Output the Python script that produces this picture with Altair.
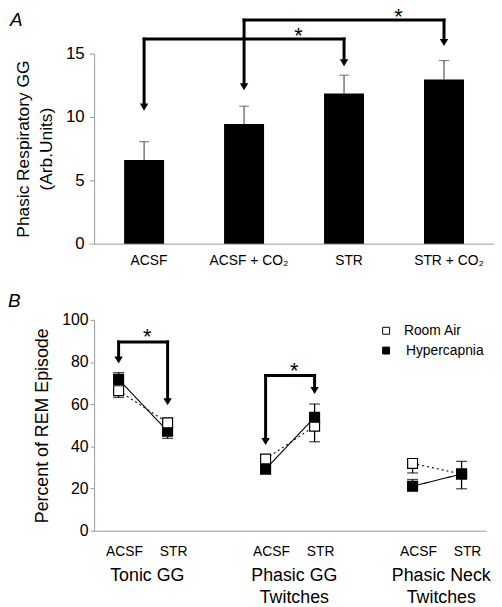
import altair as alt
import pandas as pd

FONT = "Liberation Sans"
INK = "#000000"
AXIS_GREY = "#9a9a9a"
ERR_GREY = "#333333"
ARROW_SHAPE = "M-1,-1.7L1,-1.7L0,0Z"

# ---------------- Panel A data ----------------
cond_a = ["ACSF", "ACSF + CO₂", "STR", "STR + CO₂"]
mean_a = [6.6, 9.45, 11.85, 12.95]
sem_a = [1.45, 1.4, 1.45, 1.5]

cmp_a_from = ["ACSF", "ACSF + CO₂"]
cmp_a_to = ["STR", "STR + CO₂"]
cmp_a_level = [16.15, 17.65]
cmp_a_tip_from = [10.5, 12.1]
cmp_a_tip_to = [14.0, 15.6]

# ---------------- Panel B data ----------------
slots_b = ["Tonic GG|ACSF", "Tonic GG|STR", "gap1",
           "Phasic GG|ACSF", "Phasic GG|STR", "gap2",
           "Phasic Neck|ACSF", "Phasic Neck|STR"]
group_text_b = ["Tonic GG", "Phasic GG\nTwitches", "Phasic Neck\nTwitches"]
group_anchor_b = ["Tonic GG|ACSF", "Phasic GG|ACSF", "Phasic Neck|ACSF"]
series_b = ["Room Air", "Hypercapnia"]
series_fill_b = ["#ffffff", INK]

pt_slot = ["Tonic GG|ACSF", "Tonic GG|ACSF", "Tonic GG|STR", "Tonic GG|STR",
           "Phasic GG|ACSF", "Phasic GG|ACSF", "Phasic GG|STR", "Phasic GG|STR",
           "Phasic Neck|ACSF", "Phasic Neck|ACSF", "Phasic Neck|STR", "Phasic Neck|STR"]
pt_series = ["Room Air", "Hypercapnia"] * 6
pt_value = [66.4, 71.8, 51.2, 47.2, 34.0, 29.2, 49.6, 53.8, 31.9, 21.1, 26.9, 26.9]
pt_err = [3.2, 3.2, 2.1, 3.4, 2.5, 2.5, 7.4, 6.3, 4.5, 3.2, 7.0, 6.0]
pt_dir = [-1, 1, 1, -1, -1, 1, -1, 1, -1, 1, -1, 1]

cmp_b_from = ["Tonic GG|ACSF", "Phasic GG|ACSF"]
cmp_b_to = ["Tonic GG|STR", "Phasic GG|STR"]
cmp_b_level = [89.5, 73.6]
cmp_b_tip_from = [79.3, 40.6]
cmp_b_tip_to = [59.5, 64.8]

# ---------------- Panel A ----------------
WA, HA = 404, 192
df_a = pd.DataFrame({"cond": cond_a, "mean": mean_a, "sem": sem_a})
cmp_a = pd.DataFrame({"c_from": cmp_a_from, "c_to": cmp_a_to, "level": cmp_a_level,
                      "tip_from": cmp_a_tip_from, "tip_to": cmp_a_tip_to})
arrows_a = pd.DataFrame({
    "cond": cmp_a_from + cmp_a_to,
    "level": cmp_a_level + cmp_a_level,
    "tip": cmp_a_tip_from + cmp_a_tip_to,
})

xa_scale = alt.Scale(domain=cond_a, paddingInner=0.6, paddingOuter=0.3)
ya_scale = alt.Scale(domain=[0, 15], nice=False)

xa_axis = alt.Axis(title=None, labelAngle=0, labelFontSize=14, labelFont=FONT,
                   labelColor=INK, labelOffset=5, ticks=False,
                   labelPadding=10, domainColor=AXIS_GREY)
ya_axis = alt.Axis(values=[0, 5, 10, 15], grid=False, labelFontSize=17, labelFont=FONT,
                   labelColor=INK, tickSize=5, labelPadding=5,
                   domainColor=AXIS_GREY, tickColor=AXIS_GREY,
                   title=["Phasic Respiratory GG", "(Arb.Units)"],
                   titleFont=FONT, titleFontSize=17.5, titleFontWeight="normal",
                   titleLineHeight=23, titleColor=INK, titlePadding=10)

bars_a = alt.Chart(df_a).mark_bar(color=INK).encode(
    x=alt.X("cond:N", scale=xa_scale, sort=cond_a, axis=xa_axis),
    y=alt.Y("mean:Q", scale=ya_scale, axis=ya_axis),
)
base_err_a = alt.Chart(df_a).transform_calculate(top="datum.mean + datum.sem")
err_a = base_err_a.mark_rule(color=ERR_GREY, strokeWidth=1).encode(
    x=alt.X("cond:N"), y=alt.Y("mean:Q"), y2="top:Q")
cap_a = base_err_a.mark_tick(color=ERR_GREY, thickness=1, size=10).encode(
    x=alt.X("cond:N"), y=alt.Y("top:Q"))
hbar_a = alt.Chart(cmp_a).mark_rule(color=INK, strokeWidth=3, strokeCap="square").encode(
    x=alt.X("c_from:N"), x2="c_to:N", y=alt.Y("level:Q"))
vbar_a = alt.Chart(arrows_a).mark_rule(color=INK, strokeWidth=3, strokeCap="square",
                                       y2Offset=-5).encode(
    x=alt.X("cond:N"), y=alt.Y("level:Q"), y2="tip:Q")
head_a = alt.Chart(arrows_a).mark_point(shape=ARROW_SHAPE, filled=True, size=72,
                                        color=INK, opacity=1, strokeWidth=0).encode(
    x=alt.X("cond:N"), y=alt.Y("tip:Q"))
star_a = alt.Chart(cmp_a).mark_text(text="*", fontSize=22, font=FONT, color=INK,
                                    baseline="alphabetic", dx=-46, dy=4).encode(
    x=alt.X("c_to:N"), y=alt.Y("level:Q"))
tag_a = alt.Chart(pd.DataFrame({"t": ["A"]})).mark_text(
    fontSize=19, font=FONT, fontStyle="italic", color=INK, align="left", baseline="top"
).encode(x=alt.value(-85), y=alt.value(-43), text="t:N")

panel_a = alt.layer(bars_a, err_a, cap_a, hbar_a, vbar_a, head_a, star_a, tag_a).properties(
    width=WA, height=HA)

# ---------------- Panel B ----------------
WB, HB = 396, 213
df_b = pd.DataFrame({"slot": pt_slot, "series": pt_series, "value": pt_value,
                     "err": pt_err, "dir": pt_dir})
cmp_b = pd.DataFrame({"c_from": cmp_b_from, "c_to": cmp_b_to, "level": cmp_b_level,
                      "tip_from": cmp_b_tip_from, "tip_to": cmp_b_tip_to})
arrows_b = pd.DataFrame({
    "slot": cmp_b_from + cmp_b_to,
    "level": cmp_b_level + cmp_b_level,
    "tip": cmp_b_tip_from + cmp_b_tip_to,
})
groups_df = pd.DataFrame({"slot": group_anchor_b, "g": group_text_b})

xb_scale = alt.Scale(domain=slots_b, paddingInner=0, paddingOuter=0)
yb_scale = alt.Scale(domain=[0, 100], nice=False)

xb_axis = alt.Axis(title=None, labelAngle=0, labelFontSize=14, labelFont=FONT,
                   labelColor=INK, labelOffset=6, ticks=False,
                   labelPadding=14, domainColor=AXIS_GREY,
                   labelExpr="indexof(datum.value, '|') > 0 ? split(datum.value, '|')[1] : ''")
yb_axis = alt.Axis(values=[0, 20, 40, 60, 80, 100], grid=False, labelFontSize=16,
                   labelFont=FONT, labelColor=INK, tickSize=4, labelPadding=2,
                   domainColor=AXIS_GREY, tickColor=AXIS_GREY,
                   title="Percent of REM Episode", titleFont=FONT, titleFontSize=18,
                   titleFontWeight="normal", titleColor=INK, titlePadding=10)

base_b = alt.Chart(df_b).transform_calculate(
    end="datum.value + datum.dir * datum.err",
    grp="split(datum.slot, '|')[0]",
    linestyle="datum.series",
)
err_b = base_b.mark_rule(color=INK, strokeWidth=1.3).encode(
    x=alt.X("slot:N", scale=xb_scale, sort=slots_b, axis=xb_axis),
    y=alt.Y("value:Q", scale=yb_scale, axis=yb_axis),
    y2="end:Q")
cap_b = base_b.mark_tick(color=INK, thickness=1.3, size=11).encode(
    x=alt.X("slot:N"), y=alt.Y("end:Q"))
line_b = base_b.mark_line(color=INK, strokeWidth=1.1).encode(
    x=alt.X("slot:N"), y=alt.Y("value:Q"),
    detail="grp:N",
    strokeDash=alt.StrokeDash("linestyle:N", scale=alt.Scale(domain=series_b,
                                                             range=[[2, 3], [1, 0]]),
                              legend=None),
)
pts_b = base_b.mark_point(shape="square", filled=True, size=100, stroke=INK,
                          strokeWidth=1.2, opacity=1).encode(
    x=alt.X("slot:N"), y=alt.Y("value:Q"),
    fill=alt.Fill("series:N", scale=alt.Scale(domain=series_b, range=series_fill_b),
                  legend=None),
    order=alt.Order("dir:Q"),
)
hbar_b = alt.Chart(cmp_b).mark_rule(color=INK, strokeWidth=3, strokeCap="square").encode(
    x=alt.X("c_from:N"), x2="c_to:N", y=alt.Y("level:Q"))
vbar_b = alt.Chart(arrows_b).mark_rule(color=INK, strokeWidth=3, strokeCap="square",
                                       y2Offset=-5).encode(
    x=alt.X("slot:N"), y=alt.Y("level:Q"), y2="tip:Q")
head_b = alt.Chart(arrows_b).mark_point(shape=ARROW_SHAPE, filled=True, size=72,
                                        color=INK, opacity=1, strokeWidth=0).encode(
    x=alt.X("slot:N"), y=alt.Y("tip:Q"))
star_b = alt.Chart(cmp_b).mark_text(text="*", fontSize=22, font=FONT, color=INK,
                                    baseline="alphabetic", dx=29, dy=2).encode(
    x=alt.X("c_from:N"), y=alt.Y("level:Q"))
grp_b = alt.Chart(groups_df).mark_text(fontSize=18, font=FONT, color=INK, lineBreak="\n",
                                       baseline="alphabetic", lineHeight=22, dx=29).encode(
    x=alt.X("slot:N"),
    y=alt.value(HB + 51),
    text="g:N",
)
tag_b = alt.Chart(pd.DataFrame({"t": ["B"]})).mark_text(
    fontSize=19, font=FONT, fontStyle="italic", color=INK, align="left", baseline="top"
).encode(x=alt.value(-87), y=alt.value(-28), text="t:N")

# legend (drawn as a small key inside panel B)
legend_layers = []
for i, (name, fillc) in enumerate(zip(series_b, series_fill_b)):
    key_df = pd.DataFrame({"name": [name]})
    legend_layers.append(
        alt.Chart(key_df).mark_point(shape="square", filled=True, size=49, stroke=INK,
                                     strokeWidth=1, opacity=1, fill=fillc).encode(
            x=alt.value(295), y=alt.value(11 + 20 * i)))
    legend_layers.append(
        alt.Chart(key_df).mark_text(fontSize=14, font=FONT, color=INK, align="left",
                                    baseline="middle").encode(
            x=alt.value(313 + 2 * i), y=alt.value(11 + 20 * i), text="name:N"))

panel_b = alt.layer(err_b, cap_b, line_b, pts_b, hbar_b, vbar_b, head_b, star_b,
                    grp_b, tag_b, *legend_layers).properties(width=WB, height=HB)

chart = alt.vconcat(panel_a, panel_b, spacing=25,
                    padding={"top": -5, "left": 0, "right": 0, "bottom": 0}).configure(
    font=FONT, view=alt.ViewConfig(strokeWidth=0))

chart.save("out.html", embed_options={"renderer": "svg", "actions": False})
